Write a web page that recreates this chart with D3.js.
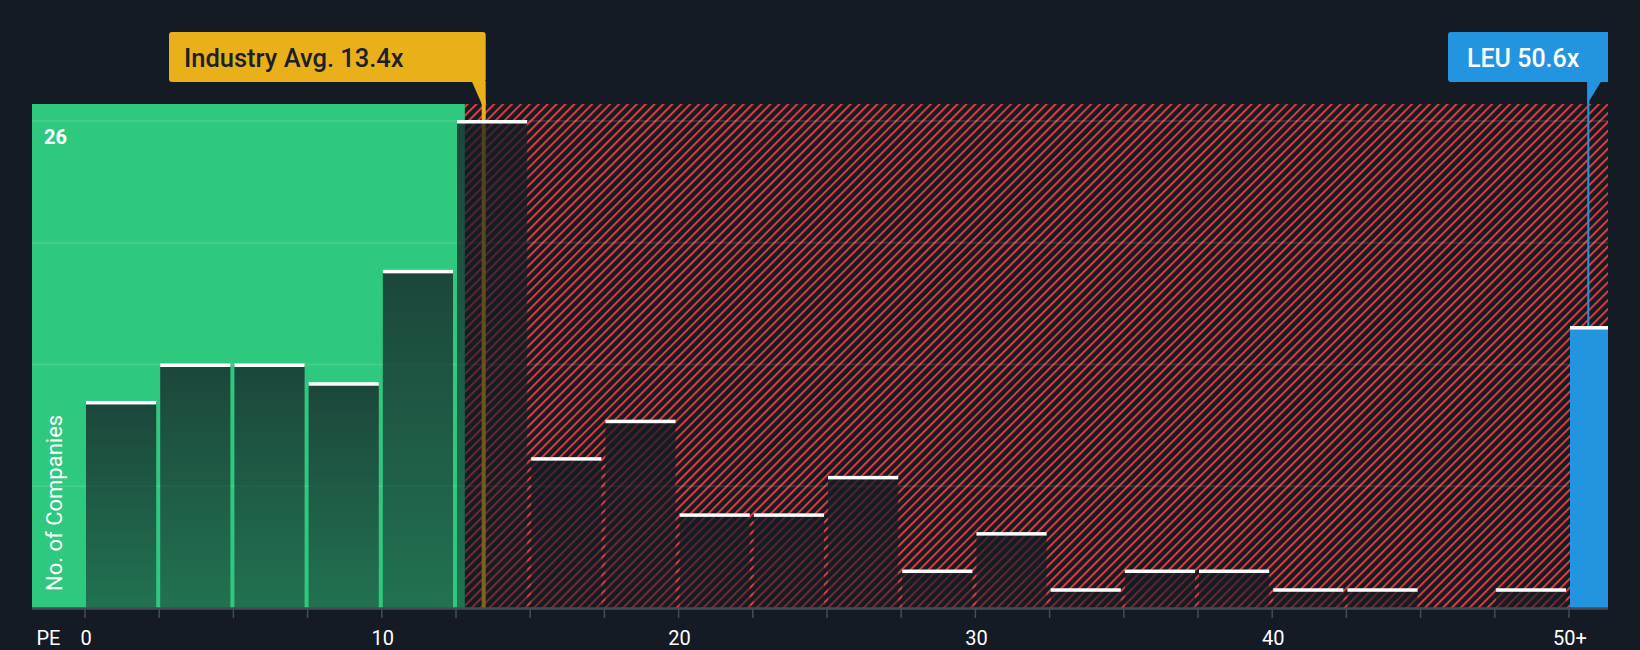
<!DOCTYPE html>
<html>
<head>
<meta charset="utf-8">
<script src="https://cdn.jsdelivr.net/npm/d3@7"></script>
<style>
  html, body { margin: 0; padding: 0; background: #151b24; }
  svg { display: block; font-family: Roboto, "Noto Sans", sans-serif; }
</style>
</head>
<body>
<svg id="chart" width="1640" height="650"></svg>
<script>
// ---- data ----
const binStarts = [0, 2.5, 5, 7.5, 10, 12.5, 15, 17.5, 20, 22.5, 25, 27.5, 30, 32.5, 35, 37.5, 40, 42.5, 45, 47.5];
const binWidth = 2.5;
const counts = [11, 13, 13, 12, 18, 26, 8, 10, 5, 5, 7, 2, 4, 1, 2, 2, 1, 1, 0, 1];
const overflowLabel = "50+";
const overflowCount = 15;
const tickValues = [0, 10, 20, 30, 40, 50];
const tickLabels = ["0", "10", "20", "30", "40", "50+"];
const minorTicks = d3.range(0, 50.01, 2.5);
const gridValues = [6.5, 13, 19.5, 26];
const yMaxLabel = "26";
const industryAvg = 13.4;
const industryText = "Industry Avg. 13.4x";
const fairBoundary = 12.8;
const companyValue = 50.6;
const companyText = "LEU 50.6x";
const yAxisTitle = "No. of Companies";
const xAxisTitle = "PE";

// ---- layout ----
const svg = d3.select("#chart");
const plot = { left: 32, right: 1608, top: 104, bottom: 608 };
const x = d3.scaleLinear().domain([0, 50]).range([85, 1569]);
const y = d3.scaleLinear().domain([0, 26]).range([608, 121]);

const defs = svg.append("defs");
const pat = defs.append("pattern")
  .attr("id", "hatch").attr("patternUnits", "userSpaceOnUse")
  .attr("width", 6.3).attr("height", 6.3)
  .attr("patternTransform", "rotate(45)");
pat.append("rect").attr("width", 6.3).attr("height", 6.3).attr("fill", "#151b24");
pat.append("line").attr("x1", 1).attr("x2", 1).attr("y1", 0).attr("y2", 6.3)
  .attr("stroke", "#e03c3d").attr("stroke-width", 2);

const grad = defs.append("linearGradient").attr("id", "barGrad")
  .attr("x1", 0).attr("x2", 0).attr("y1", 0).attr("y2", 1);
grad.append("stop").attr("offset", "0%").attr("stop-color", "#151b24").attr("stop-opacity", 0.75);
grad.append("stop").attr("offset", "100%").attr("stop-color", "#151b24").attr("stop-opacity", 0.5);

// backgrounds
svg.append("rect").attr("x", plot.left).attr("y", plot.top)
  .attr("width", x(fairBoundary) - plot.left).attr("height", plot.bottom - plot.top)
  .attr("fill", "#2ec97e");
svg.append("rect").attr("x", x(fairBoundary)).attr("y", plot.top)
  .attr("width", plot.right - x(fairBoundary)).attr("height", plot.bottom - plot.top)
  .attr("fill", "url(#hatch)");

// gridlines
svg.append("g").selectAll("line").data(gridValues).join("line")
  .attr("x1", plot.left).attr("x2", plot.right)
  .attr("y1", d => y(d)).attr("y2", d => y(d))
  .attr("stroke", "#ffffff").attr("stroke-opacity", 0.1).attr("stroke-width", 2);

// industry average line (behind bars)
const ix = x(industryAvg) + 1;
svg.append("line").attr("x1", ix).attr("x2", ix).attr("y1", 100).attr("y2", plot.bottom)
  .attr("stroke", "#e9b01a").attr("stroke-width", 4);

// bars
const binData = binStarts.map((b, i) => ({ b0: b, b1: b + binWidth, v: counts[i] })).filter(d => d.v > 0);
const bars = svg.append("g");
bars.selectAll("rect.bar").data(binData).join("rect")
  .attr("class", "bar")
  .attr("x", d => x(d.b0) + 1)
  .attr("width", d => x(d.b1) - x(d.b0) - 4)
  .attr("y", d => y(d.v))
  .attr("height", d => y(0) - y(d.v))
  .attr("fill", "url(#barGrad)");
bars.selectAll("rect.cap").data(binData).join("rect")
  .attr("class", "cap")
  .attr("x", d => x(d.b0) + 1)
  .attr("width", d => x(d.b1) - x(d.b0) - 4)
  .attr("y", d => y(d.v) - 1)
  .attr("height", 3.5)
  .attr("fill", "#ffffff");

// overflow bar (50+)
const ox0 = x(50) + 1;
svg.append("rect").attr("x", ox0).attr("width", plot.right - ox0)
  .attr("y", y(overflowCount)).attr("height", y(0) - y(overflowCount))
  .attr("fill", "#2394df");
svg.append("rect").attr("x", ox0).attr("width", plot.right - ox0)
  .attr("y", y(overflowCount) - 1).attr("height", 3.5).attr("fill", "#ffffff");

// company line
const cx = x(companyValue) + 1.5;
svg.append("line").attr("x1", cx).attr("x2", cx).attr("y1", 82).attr("y2", y(overflowCount) - 1)
  .attr("stroke", "#2394df").attr("stroke-width", 2);

// y label "26"
svg.append("text").attr("x", 44).attr("y", 144)
  .attr("fill", "#ffffff").attr("font-size", 20).attr("font-weight", 700)
  .text(yMaxLabel);

// y axis title
svg.append("text")
  .attr("transform", "translate(61.5,591) rotate(-90)")
  .attr("fill", "#ffffff").attr("font-size", 22)
  .text(yAxisTitle);

// x axis
const axisG = svg.append("g");
axisG.append("line").attr("x1", plot.left).attr("x2", plot.right)
  .attr("y1", plot.bottom + 0.5).attr("y2", plot.bottom + 0.5)
  .attr("stroke", "#464c56").attr("stroke-width", 2.5);
axisG.selectAll("line.tick").data(minorTicks).join("line")
  .attr("class", "tick")
  .attr("x1", d => x(d)).attr("x2", d => x(d))
  .attr("y1", plot.bottom + 1).attr("y2", plot.bottom + 10)
  .attr("stroke", "#464c56").attr("stroke-width", 1.5);
axisG.selectAll("text.tl").data(tickValues).join("text")
  .attr("class", "tl")
  .attr("x", d => x(d) + 1).attr("y", 645)
  .attr("text-anchor", "middle")
  .attr("fill", "#ffffff").attr("font-size", 20)
  .text((d, i) => tickLabels[i]);
axisG.append("text").attr("x", 36.5).attr("y", 645)
  .attr("fill", "#ffffff").attr("font-size", 20).text(xAxisTitle);

// industry label
svg.append("path")
  .attr("d", `M${ix - 12},81 L${ix + 2},81 L${ix + 2},104 L${ix - 2},104 Z`)
  .attr("fill", "#e9b01a");
svg.append("rect").attr("x", 169).attr("y", 32).attr("width", ix + 2 - 169).attr("height", 50)
  .attr("rx", 3).attr("fill", "#e9b01a");
svg.append("text").attr("x", 184).attr("y", 67)
  .attr("fill", "#1b202a").attr("font-size", 25.5).attr("font-weight", 500)
  .text(industryText);

// company label
svg.append("path")
  .attr("d", `M${cx - 1},81 L${cx + 13},81 L${cx - 1},104 Z`)
  .attr("fill", "#2394df");
svg.append("path")
  .attr("d", `M${1448 + 3},32 L${plot.right},32 L${plot.right},82 L${1448 + 3},82 Q1448,82 1448,79 L1448,35 Q1448,32 ${1448 + 3},32 Z`)
  .attr("fill", "#2394df");
svg.append("text").attr("x", 1467).attr("y", 67)
  .attr("fill", "#ffffff").attr("font-size", 25).attr("font-weight", 500)
  .text(companyText);
</script>
</body>
</html>
